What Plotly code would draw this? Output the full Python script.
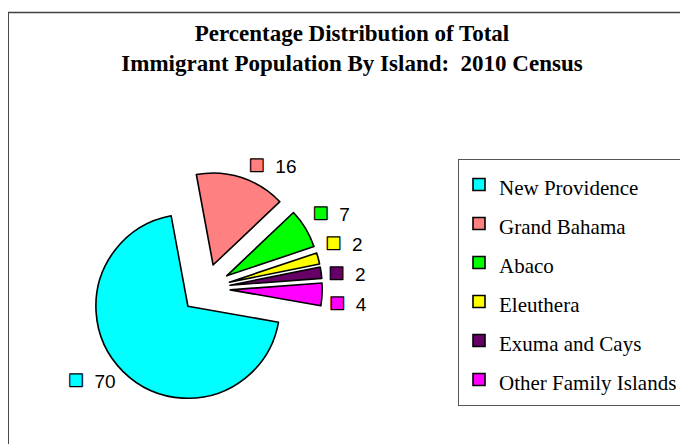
import plotly.graph_objects as go

# Data
islands = ["New Providence", "Grand Bahama", "Abaco", "Eleuthera",
           "Exuma and Cays", "Other Family Islands"]
percent = [70, 16, 7, 2, 2, 4]
colors = ["#00FFFF", "#FF8080", "#00FF00", "#FFFF00", "#660066", "#FF00FF"]

title_lines = ["Percentage Distribution of Total",
               "Immigrant Population By Island:\u00a0 2010 Census"]

W, H = 688, 444

# label text: coloured key square + value (spans are made opaque so the
# transparent base text colour only hides plotly's leader lines)
label_text = [
    f"<span style='font-size:26px;color:{c};fill-opacity:1;stroke:#000000;stroke-width:1.2px'>\u25A0</span>"
    f"\u00a0\u00a0<span style='color:#000000;fill-opacity:1'>{v}</span>"
    for c, v in zip(colors, percent)
]
legend_labels = [f"<span style='font-size:21px'>{s}</span>" for s in islands]

# pie geometry (pixels) -> domain
cx, cy, r, pull = 197.4, 280.6, 92.0, 0.27
half = r * (1 + pull)

fig = go.Figure(go.Pie(
    labels=legend_labels,
    values=percent,
    text=label_text,
    textinfo="text",
    textposition="outside",
    textfont=dict(family="Liberation Sans, Arial, sans-serif", size=19,
                  color="rgba(0,0,0,0)"),
    marker=dict(colors=colors, line=dict(color="#000000", width=1.6)),
    pull=[pull] * len(percent),
    sort=False,
    direction="clockwise",
    rotation=100,
    hoverinfo="skip",
    domain=dict(x=[(cx - half) / W, (cx + half) / W],
                y=[1 - (cy + half) / H, 1 - (cy - half) / H]),
))

fig.update_layout(
    width=W, height=H,
    margin=dict(l=0, r=0, t=0, b=0),
    paper_bgcolor="#FFFFFF",
    plot_bgcolor="#FFFFFF",
    title=dict(
        text="<br>".join(title_lines),
        x=344 / W, xanchor="center",
        y=1 - 33 / H, yanchor="top",
        font=dict(family="Liberation Serif, Times New Roman, serif", size=23,
                  color="#000000", weight="bold"),
    ),
    legend=dict(
        x=450 / W, xanchor="left",
        y=1 - 151 / H, yanchor="top",
        bgcolor="#FFFFFF",
        bordercolor="#555555", borderwidth=1,
        font=dict(family="Liberation Serif, Times New Roman, serif", size=27.7,
                  color="#000000"),
        traceorder="normal",
    ),
    shapes=[dict(
        type="rect", xref="paper", yref="paper",
        x0=0.2 / W, x1=1.02, y0=-0.02, y1=1 - 4.5 / H,
        line=dict(color="#404040", width=1.5), fillcolor="rgba(0,0,0,0)",
        layer="below",
    )],
)

fig.write_html("out.html")
